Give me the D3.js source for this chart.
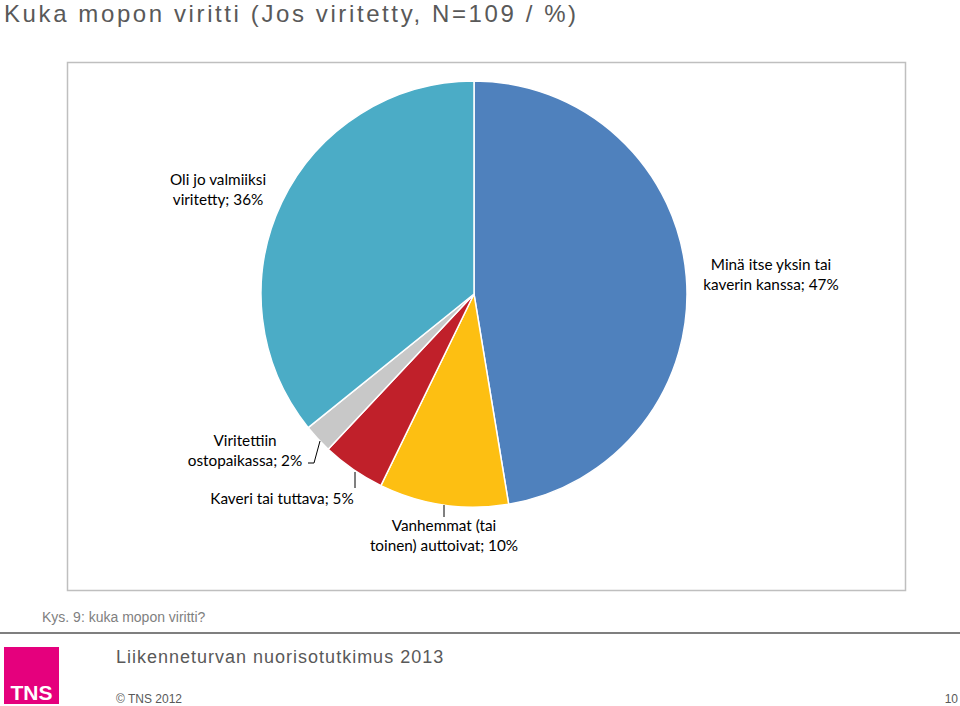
<!DOCTYPE html>
<html><head><meta charset="utf-8">
<script src="https://cdn.jsdelivr.net/npm/d3@7"></script>
<style>body{margin:0;background:#fff}svg{display:block}</style>
</head><body><svg id="c" width="960" height="706"></svg>
<script>
const categories = ["Minä itse yksin tai kaverin kanssa","Vanhemmat (tai toinen) auttoivat","Kaveri tai tuttava","Viritettiin ostopaikassa","Oli jo valmiiksi viritetty"];
const values = [47.4, 9.8, 4.8, 2.2, 35.8];
const labelValues = [47, 10, 5, 2, 36];
const labelLines = [["Minä itse yksin tai","kaverin kanssa; 47%"],["Vanhemmat (tai","toinen) auttoivat; 10%"],["Kaveri tai tuttava; 5%"],["Viritettiin","ostopaikassa; 2%"],["Oli jo valmiiksi","viritetty; 36%"]];
const colors = ["#4F81BD","#FDBF12","#C0202A","#C8C8C8","#4BACC6"];

const svg = d3.select("#c");
const grey = "#595959";

// title
svg.append("text").attr("x",4).attr("y",22).attr("font-family","Liberation Sans, Arial").attr("font-size",24)
  .attr("letter-spacing","2.6px").attr("fill",grey).text("Kuka mopon viritti (Jos viritetty, N=109 / %)");

// plot frame
svg.append("rect").attr("x",67.5).attr("y",62.5).attr("width",838).attr("height",528)
  .attr("fill","none").attr("stroke","#BFBFBF").attr("stroke-width",1.5);

const cx = 474, cy = 294, r = 213;
const g = svg.append("g").attr("transform",`translate(${cx},${cy})`);
const pie = d3.pie().sort(null).value(d=>d)(values);
const arc = d3.arc().innerRadius(0).outerRadius(r);
g.selectAll("path").data(pie).join("path").attr("d",arc).attr("fill",(d,i)=>colors[i])
  .attr("stroke","#fff").attr("stroke-width",1.5);

// labels
const labelPos = [[771,270],[444,531],[282,504],[245,446],[218,185]];
const lf = "Lato, Open Sans, sans-serif";
labelLines.forEach((lines,i)=>{
  const t = svg.append("text").attr("font-family",lf).attr("font-size",15.3).attr("fill","#000").attr("text-anchor","middle");
  lines.forEach((l,j)=>t.append("tspan").attr("x",labelPos[i][0]).attr("y",labelPos[i][1]+j*20).text(l));
});
// leader lines
const leaders = [
  [[444,505],[444,517]],
  [[355,472],[355,488]],
  [[320,441],[314,463],[308,463]]
];
leaders.forEach(p=>svg.append("path").attr("d",d3.line()(p)).attr("fill","none").attr("stroke","#000").attr("stroke-width",1));

// footer
svg.append("text").attr("x",42).attr("y",622).attr("font-family","Liberation Sans, Arial").attr("font-size",14)
  .attr("fill","#7F7F7F").text("Kys. 9: kuka mopon viritti?");
svg.append("line").attr("x1",0).attr("x2",960).attr("y1",633).attr("y2",633).attr("stroke","#7F7F7F").attr("stroke-width",2);
svg.append("rect").attr("x",4).attr("y",647).attr("width",55).attr("height",57).attr("fill","#E5007D");
svg.append("text").attr("x",31.5).attr("y",700).attr("text-anchor","middle").attr("font-family","Liberation Sans Narrow, Liberation Sans").attr("font-weight","bold")
  .attr("font-size",21).attr("fill","#fff").text("TNS");
svg.append("text").attr("x",116).attr("y",663).attr("font-family","Liberation Sans, Arial").attr("font-size",18)
  .attr("letter-spacing","1px").attr("fill",grey).text("Liikenneturvan nuorisotutkimus 2013");
svg.append("text").attr("x",116).attr("y",703).attr("font-family","Liberation Sans, Arial").attr("font-size",12)
  .attr("fill",grey).text("© TNS 2012");
svg.append("text").attr("x",958).attr("y",703).attr("text-anchor","end").attr("font-family","Liberation Sans, Arial").attr("font-size",12)
  .attr("fill",grey).text("10");
</script></body></html>
